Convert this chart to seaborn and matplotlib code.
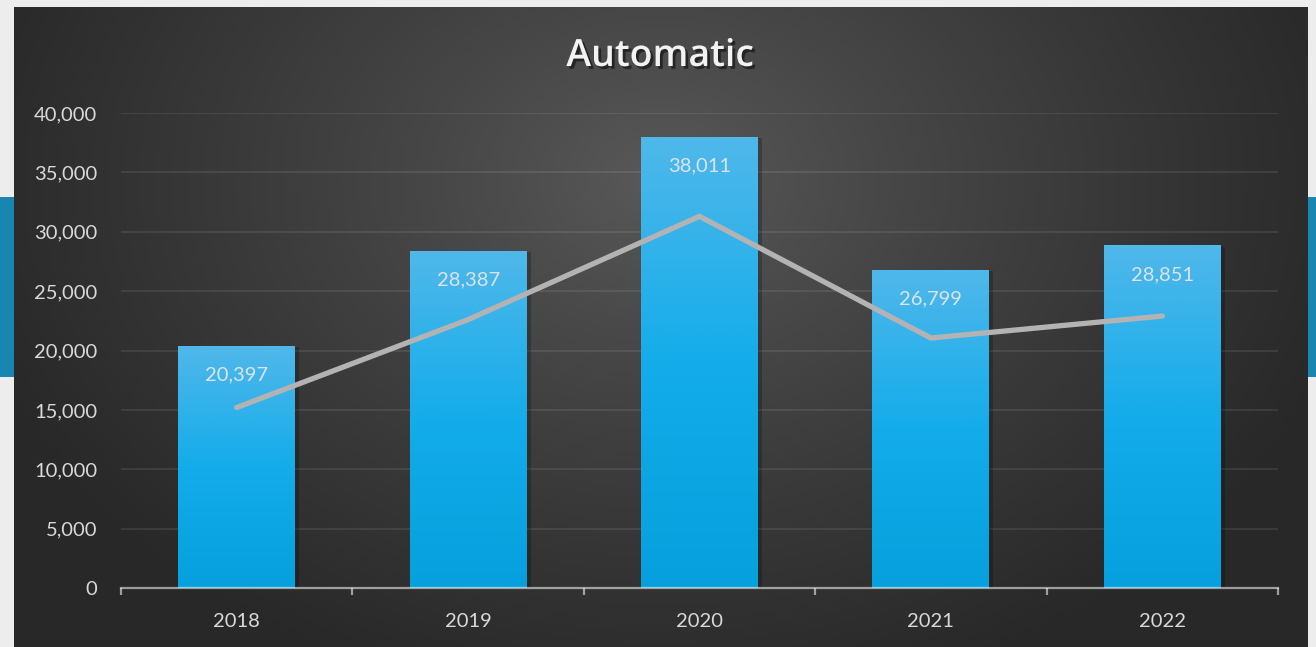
import numpy as np
import pandas as pd
import matplotlib
matplotlib.use("Agg")
import matplotlib.pyplot as plt
import matplotlib.patheffects as pe
from matplotlib.colors import LinearSegmentedColormap
from matplotlib.patches import Rectangle
import seaborn as sns

# ---- data ----
years = ["2018", "2019", "2020", "2021", "2022"]
bar_values = [20397, 28387, 38011, 26799, 28851]
line_values = [15200, 22600, 31300, 21050, 22900]
title = "Automatic"
y_ticks = [0, 5000, 10000, 15000, 20000, 25000, 30000, 35000, 40000]

sns.set_theme(style="dark")
plt.rcParams["font.family"] = ["Lato", "DejaVu Sans"]

W, H = 1316, 647
fig = plt.figure(figsize=(W / 100, H / 100), dpi=100)
fig.patch.set_facecolor("#ededed")

# outer backdrop: blue band behind the panel
band = fig.add_axes([0, (H - 377) / H, 1, 180 / H], zorder=-20)
band.set_axis_off()
band.add_patch(Rectangle((0, 0), 1, 1, transform=band.transAxes,
                         facecolor="#1985b1", edgecolor="none"))

# dark radial-gradient panel
px0, px1, py0, py1 = 14, 1308, 7, 647
bg = fig.add_axes([px0 / W, 0, (px1 - px0) / W, (py1 - py0) / H], zorder=-10)
bg.set_axis_off()
gx, gy = np.meshgrid(np.linspace(px0, px1, 400), np.linspace(py0, py1, 200))
d = np.sqrt(((gx - 660) / 720) ** 2 + ((gy - 180) / 540) ** 2)
d = np.clip(d, 0, 1)
c_in, c_out = np.array([0x5a, 0x5a, 0x5a]) / 255, np.array([0x28, 0x28, 0x28]) / 255
img = c_in[None, None, :] * (1 - d[..., None] ** 0.85) + c_out[None, None, :] * (d[..., None] ** 0.85)
bg.imshow(img, extent=[0, 1, 0, 1], origin="upper", aspect="auto")
bg.set_xlim(0, 1)
bg.set_ylim(0, 1)

# main axes
ax = fig.add_axes([121 / W, (H - 588) / H, (1278 - 121) / W, (588 - 113) / H])
ax.patch.set_alpha(0)

df = pd.DataFrame({"year": years, "value": bar_values})
sns.barplot(data=df, x="year", y="value", ax=ax, width=0.505, color="#1aaee9",
            saturation=1, zorder=2)

cmap = LinearSegmentedColormap.from_list("barg", ["#05a0dd", "#14acea", "#50b8ea"])
grad = np.linspace(0, 1, 256).reshape(-1, 1)
for p in ax.patches:
    p.set_edgecolor("none")
    p.set_path_effects([pe.SimplePatchShadow(offset=(3, -1), shadow_rgbFace="black", alpha=0.22),
                        pe.Normal()])
    x, w, h = p.get_x(), p.get_width(), p.get_height()
    im = ax.imshow(grad, extent=[x, x + w, 0, h], origin="lower", cmap=cmap,
                   aspect="auto", zorder=2.5)
    im.set_clip_path(p)
    ax.annotate(f"{h:,.0f}", xy=(x + w / 2, h), xytext=(0, -29),
                textcoords="offset pixels",
                ha="center", va="center", color="#dde3e8", fontsize=14.5, zorder=4)

sns.lineplot(x=np.arange(len(years)), y=line_values, ax=ax, color="#b3b3b3",
             linewidth=3.8, zorder=3, solid_capstyle="round", solid_joinstyle="miter")

ax.set_xlim(-0.5, len(years) - 0.5)
ax.set_ylim(0, 40000)
ax.set_yticks(y_ticks)
ax.set_yticklabels([f"{v:,}" for v in y_ticks])
ax.set_xticks(range(len(years)))
ax.set_xticklabels(years)
ax.set_xlabel("")
ax.set_ylabel("")

ax.grid(False)
for v in y_ticks[1:]:
    ax.axhline(v, color="white", alpha=0.1, linewidth=1.2, zorder=1)

for s in ["top", "right", "left"]:
    ax.spines[s].set_visible(False)
ax.spines["bottom"].set_color((1, 1, 1, 0.55))
ax.spines["bottom"].set_linewidth(1.6)
ax.spines["bottom"].set_zorder(5)

ax.set_xticks(np.arange(-0.5, len(years), 1.0), minor=True)
ax.tick_params(axis="x", which="minor", length=5, width=1.6, color=(1, 1, 1, 0.55),
               direction="out", bottom=True)
ax.tick_params(axis="x", which="major", length=0, pad=18, labelcolor="#d9d9d9",
               labelsize=14.5)
ax.tick_params(axis="y", length=0, pad=17, labelcolor="#d9d9d9", labelsize=14.5)

fig.text(660 / W, 1 - 56 / H, title, ha="center", va="center", fontsize=27,
         fontweight="semibold", color="#f2f2f2", family=["Open Sans", "DejaVu Sans"],
         path_effects=[pe.SimplePatchShadow(offset=(2, -2), shadow_rgbFace="black", alpha=0.5),
                       pe.Normal()])

fig.savefig("out.png", dpi=100, facecolor=fig.get_facecolor())
